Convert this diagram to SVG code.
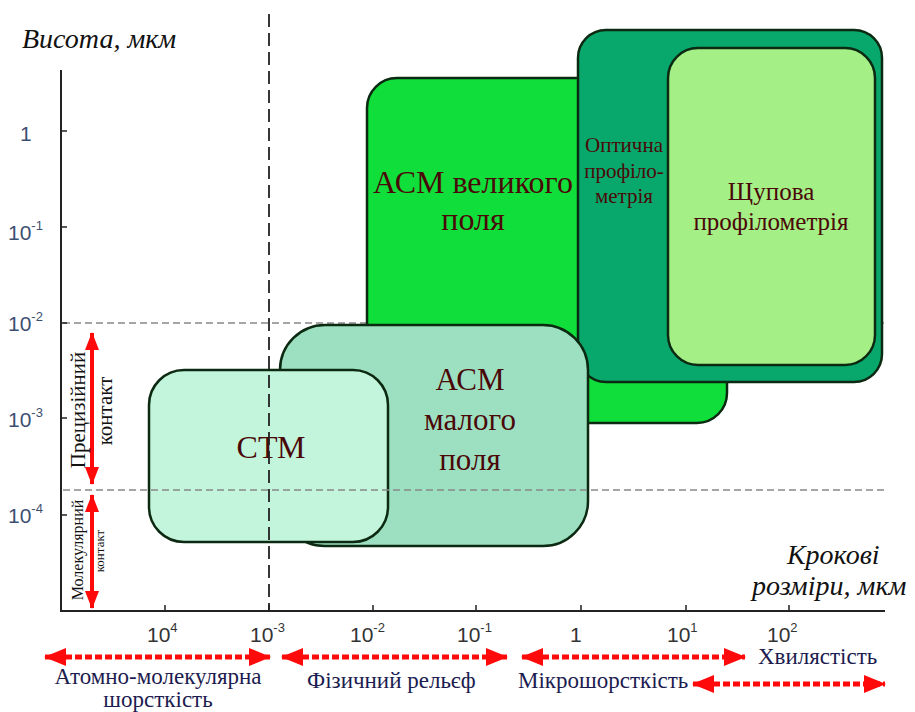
<svg xmlns="http://www.w3.org/2000/svg" width="915" height="712" viewBox="0 0 915 712">
  <style>
    .axis { stroke: #222; stroke-width: 2; fill: none; }
    .tick { stroke: #222; stroke-width: 1.5; }
    .grid { stroke: #888; stroke-width: 1.3; stroke-dasharray: 7 4; fill: none; }
    .vdash { stroke: #222; stroke-width: 1.8; stroke-dasharray: 13 6; fill: none; }
    .box { stroke: #0c2a12; stroke-width: 2.5; }
    .ytl { font-family: "Liberation Sans", Arial, sans-serif; font-size: 21px; fill: #3d4f70; }
    .xtl { font-family: "Liberation Sans", Arial, sans-serif; font-size: 21px; fill: #333; }
    .sup { font-size: 13px; }
    .ttl { font-family: "Liberation Serif", "Times New Roman", serif; font-style: italic; font-size: 28px; fill: #111; }
    .lbl { font-family: "Liberation Serif", "Times New Roman", serif; fill: #4a0808; text-anchor: middle; }
    .rng { font-family: "Liberation Serif", "Times New Roman", serif; font-size: 23px; fill: #1c1c50; }
    .side { font-family: "Liberation Serif", "Times New Roman", serif; fill: #111; text-anchor: middle; }
    .harr { stroke: #ff0a0a; stroke-width: 5; stroke-dasharray: 7 3; fill: none; }
    .varr { stroke: #ff0a0a; stroke-width: 4; fill: none; }
  </style>
  <defs>
    <marker id="head" markerUnits="userSpaceOnUse" markerWidth="22" markerHeight="18" refX="21" refY="9" orient="auto-start-reverse">
      <path d="M0,0 L22,9 L0,18 Z" fill="#ff0a0a"/>
    </marker>
    <marker id="vhead" markerUnits="userSpaceOnUse" markerWidth="18" markerHeight="14" refX="17" refY="7" orient="auto-start-reverse">
      <path d="M0,0 L18,7 L0,14 Z" fill="#ff0a0a"/>
    </marker>
  </defs>

  <rect width="915" height="712" fill="#fff"/>

  <!-- grid line at 10^-2, behind the method regions -->
  <line class="grid" x1="63" y1="323" x2="885" y2="323"/>

  <!-- method regions -->
  <g id="afm-large">
    <rect class="box" x="367" y="78" width="360" height="345" rx="30" fill="#10de3a"/>
  </g>
  <g id="optical">
    <rect class="box" x="578" y="30" width="304" height="352" rx="28" fill="#08a86c"/>
  </g>
  <g id="stylus">
    <rect class="box" x="668" y="48" width="207" height="317" rx="30" fill="#a4ef86"/>
  </g>
  <g id="afm-small">
    <rect class="box" x="280" y="325" width="308" height="221" rx="45" fill="#9de0c1"/>
  </g>
  <g id="stm">
    <rect class="box" x="149" y="370" width="239" height="172" rx="35" fill="#c3f5dc"/>
  </g>

  <!-- region labels -->
  <text class="lbl" x="473" y="193" font-size="32">АСМ великого</text>
  <text class="lbl" x="473" y="230" font-size="32">поля</text>
  <text class="lbl" x="624" y="152" font-size="21" fill="#0a2a20">Оптична</text>
  <text class="lbl" x="624" y="178" font-size="21" fill="#0a2a20">профіло-</text>
  <text class="lbl" x="624" y="203" font-size="21" fill="#0a2a20">метрія</text>
  <text class="lbl" x="771" y="200" font-size="25">Щупова</text>
  <text class="lbl" x="771" y="230" font-size="25">профілометрія</text>
  <text class="lbl" x="470" y="390" font-size="31">АСМ</text>
  <text class="lbl" x="470" y="430" font-size="31">малого</text>
  <text class="lbl" x="470" y="470" font-size="31">поля</text>
  <text class="lbl" x="271" y="458" font-size="32" fill="#6a0a0a">СТМ</text>

  <!-- overlay guides -->
  <line class="grid" x1="63" y1="490" x2="885" y2="490"/>
  <line class="vdash" x1="269" y1="14" x2="269" y2="611"/>

  <!-- axes -->
  <g id="axes">
    <polyline class="axis" points="61,70 61,611 885,611"/>
    <line class="tick" x1="61" y1="131" x2="67" y2="131"/>
    <line class="tick" x1="61" y1="227" x2="67" y2="227"/>
    <line class="tick" x1="61" y1="323" x2="67" y2="323"/>
    <line class="tick" x1="61" y1="418" x2="67" y2="418"/>
    <line class="tick" x1="61" y1="515" x2="67" y2="515"/>
    <line class="tick" x1="165" y1="611" x2="165" y2="605"/>
    <line class="tick" x1="269" y1="611" x2="269" y2="605"/>
    <line class="tick" x1="373" y1="611" x2="373" y2="605"/>
    <line class="tick" x1="476" y1="611" x2="476" y2="605"/>
    <line class="tick" x1="581" y1="611" x2="581" y2="605"/>
    <line class="tick" x1="686" y1="611" x2="686" y2="605"/>
    <line class="tick" x1="789" y1="611" x2="789" y2="605"/>
  </g>

  <!-- y tick labels -->
  <text class="ytl" x="20" y="141">1</text>
  <text class="ytl" x="8" y="240">10<tspan class="sup" dy="-10">-1</tspan></text>
  <text class="ytl" x="8" y="331">10<tspan class="sup" dy="-10">-2</tspan></text>
  <text class="ytl" x="8" y="427">10<tspan class="sup" dy="-10">-3</tspan></text>
  <text class="ytl" x="8" y="523">10<tspan class="sup" dy="-10">-4</tspan></text>

  <!-- x tick labels -->
  <text class="xtl" x="147" y="642">10<tspan class="sup" dy="-10">4</tspan></text>
  <text class="xtl" x="250" y="642">10<tspan class="sup" dy="-10">-3</tspan></text>
  <text class="xtl" x="350" y="642">10<tspan class="sup" dy="-10">-2</tspan></text>
  <text class="xtl" x="457" y="642">10<tspan class="sup" dy="-10">-1</tspan></text>
  <text class="xtl" x="570" y="642">1</text>
  <text class="xtl" x="667" y="642">10<tspan class="sup" dy="-10">1</tspan></text>
  <text class="xtl" x="767" y="642">10<tspan class="sup" dy="-10">2</tspan></text>

  <!-- axis titles -->
  <text class="ttl" x="22" y="48">Висота, мкм</text>
  <text class="ttl" x="787" y="564">Крокові</text>
  <text class="ttl" x="752" y="595">розміри, мкм</text>

  <!-- range arrows -->
  <g id="connectors">
    <line class="varr" x1="92" y1="333" x2="92" y2="484" marker-start="url(#vhead)" marker-end="url(#vhead)"/>
    <line class="varr" x1="92" y1="495" x2="92" y2="608" marker-start="url(#vhead)" marker-end="url(#vhead)"/>
    <line class="harr" x1="45" y1="657" x2="270" y2="657" marker-start="url(#head)" marker-end="url(#head)"/>
    <line class="harr" x1="282" y1="657" x2="507" y2="657" marker-start="url(#head)" marker-end="url(#head)"/>
    <line class="harr" x1="522" y1="657" x2="745" y2="657" marker-start="url(#head)" marker-end="url(#head)"/>
    <line class="harr" x1="693" y1="684" x2="885" y2="684" marker-start="url(#head)" marker-end="url(#head)"/>
  </g>

  <!-- contact regime labels -->
  <text class="side" font-size="21" transform="translate(85,410) rotate(-90)">Прецизійний</text>
  <text class="side" font-size="21" transform="translate(112,411) rotate(-90)">контакт</text>
  <text class="side" font-size="16" transform="translate(83,550) rotate(-90)">Молекулярний</text>
  <text class="side" font-size="13" transform="translate(104,551) rotate(-90)">контакт</text>

  <!-- scale range labels -->
  <text class="rng" x="158" y="684" text-anchor="middle" font-size="22">Атомно-молекулярна</text>
  <text class="rng" x="158" y="707" text-anchor="middle" font-size="21">шорсткість</text>
  <text class="rng" x="307" y="688">Фізичний рельєф</text>
  <text class="rng" x="518" y="688">Мікрошорсткість</text>
  <text class="rng" x="758" y="664">Хвилястість</text>
</svg>
